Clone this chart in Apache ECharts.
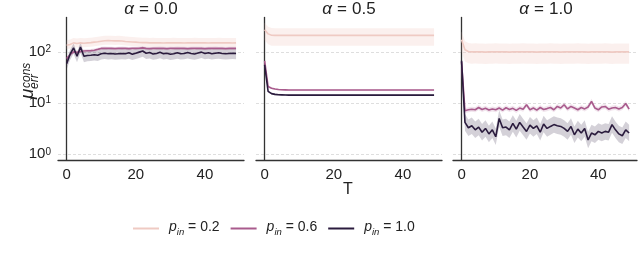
<!DOCTYPE html>
<html><head><meta charset="utf-8">
<script src="https://cdn.jsdelivr.net/npm/echarts@6/dist/echarts.min.js"></script>
<style>html,body{margin:0;padding:0;background:#fff}#c{width:640px;height:267px}</style>
</head><body><div id="c"></div>
<script>
const T = [...Array(50).keys()];
const alphaTitles = ['0.0', '0.5', '1.0'];
const pinLabels = ['0.2', '0.6', '1.0'];
const xTickLabels = [0, 20, 40];
const yTickExps = [0, 1, 2];

// alpha = 0.0
const a00_p02 = [135,140,150,146,150,148,150,152,155,158,162,165,166,165,164,165,163,160,158,156,155,153,152,152,150,151,150,150,149,150,150,151,150,150,149,150,150,151,150,150,150,149,150,150,151,150,150,150,149,150];
const a00_p06 = [74,88,100,98,102,104,105,106,108,112,117,118,117,117,116,117,118,117,116,117,117,118,120,117,116,117,117,118,117,116,117,117,118,117,117,116,117,118,117,117,116,117,117,118,117,117,116,117,117,117];
const a00_p10 = [59,90,120,82,125,82,85,86,88,86,92,94,92,93,91,92,93,92,96,90,94,99,104,94,97,91,93,98,92,94,90,92,96,92,93,97,93,91,95,99,93,96,92,94,96,93,92,93,94,93];
// alpha = 0.5
const a05_p02 = [270,225,212,210,210,210,210,210,210,210,210,210,210,210,210,210,210,210,210,210,210,210,210,210,210,210,210,210,210,210,210,210,210,210,210,210,210,210,210,210,210,210,210,210,210,210,210,210,210,210];
const a05_p06 = [67,21,19.5,18.8,18.4,18.2,18.1,18,18,18,18,18,18,18,18,18,18,18,18,18,18,18,18,18,18,18,18,18,18,18,18,18,18,18,18,18,18,18,18,18,18,18,18,18,18,18,18,18,18,18];
const a05_p10 = [56,17,15.3,14.8,14.6,14.5,14.4,14.3,14.3,14.3,14.3,14.3,14.3,14.3,14.3,14.3,14.3,14.3,14.3,14.3,14.3,14.3,14.3,14.3,14.3,14.3,14.3,14.3,14.3,14.3,14.3,14.3,14.3,14.3,14.3,14.3,14.3,14.3,14.3,14.3,14.3,14.3,14.3,14.3,14.3,14.3,14.3,14.3,14.3,14.3];
// alpha = 1.0
const a10_p02 = [172,110,102,100,101,100,100,99,100,100,101,100,100,100,99,100,100,100,101,100,100,100,99,100,100,100,101,100,100,99,100,100,100,100,101,100,100,99,100,100,100,100,101,100,99,100,100,100,100,100];
const a10_p06 = [64,7.1,7.4,7.6,7.4,8.2,7.5,7.9,7.3,7.7,7.4,8.0,7.3,8.1,7.5,7.9,7.2,8.0,7.6,9.3,7.4,8.0,7.3,8.2,7.5,7.8,8.2,7.4,8.6,8.0,9.3,7.7,8.6,8.0,7.4,8.2,7.7,8.4,10.8,8.0,7.4,8.4,8.6,7.6,8.0,8.2,7.7,8.2,9.8,7.6];
const a10_p10 = [67,4.2,3.3,3.6,3.0,3.4,2.7,3.2,2.5,3.0,2.2,5.0,3.3,3.4,3.0,4.0,3.1,4.2,3.4,2.8,3.7,3.2,3.6,2.7,3.9,3.2,3.5,3.8,3.6,3.5,3.2,2.8,3.5,2.4,3.1,2.6,3.2,1.9,2.6,2.4,2.8,2.6,2.8,2.7,3.8,3.0,2.5,2.3,3.0,2.6];

// confidence band spread factors (upper multiplier, lower divisor) per p_in
const bandUp_a00 = [1.25, 1.08, 1.22];
const bandDn_a00 = [1.2, 1.08, 1.3];
const bandUp_a05 = [1.38, 1.04, 1.04];
const bandDn_a05 = [1.6, 1.04, 1.04];
const bandUp_a10 = [1.46, 1.12, 1.45];
const bandDn_a10 = [1.7, 1.12, 1.45];

const panels = [
  {lines: [a00_p02, a00_p06, a00_p10], up: bandUp_a00, dn: bandDn_a00},
  {lines: [a05_p02, a05_p06, a05_p10], up: bandUp_a05, dn: bandDn_a05},
  {lines: [a10_p02, a10_p06, a10_p10], up: bandUp_a10, dn: bandDn_a10}
];
const colors = ['#efcac3', '#a95b8d', '#2a1b3d'];
const bandColors = ['rgba(239,202,195,0.28)', 'rgba(169,91,141,0.16)', 'rgba(42,27,61,0.2)'];
const FONT = '"Liberation Sans", Arial, sans-serif';

const gridLefts = [58, 256, 453];
const gridW = 186;
const grids = gridLefts.map(l => ({left: l, width: gridW, top: 17.5, height: 142.5}));

const xAxes = gridLefts.map((l, i) => ({
  type: 'value', gridIndex: i, min: -2.5, max: 51.3, interval: 2.5,
  axisLine: {show: true, lineStyle: {color: '#333', width: 1.3}},
  axisTick: {show: false},
  splitLine: {show: false},
  axisLabel: {
    margin: 7, color: '#222', fontSize: 15, fontFamily: FONT,
    formatter: v => (xTickLabels.includes(Math.round(v * 100) / 100) ? String(Math.round(v)) : '')
  }
}));

const yAxes = gridLefts.map((l, i) => ({
  type: 'log', gridIndex: i, logBase: 10, min: 0.773, max: 470,
  axisLine: {show: true, lineStyle: {color: '#333', width: 1.3}},
  axisTick: {show: false},
  splitLine: {show: true, showMinLine: false, showMaxLine: false,
    lineStyle: {color: '#d6d6d6', width: 0.8, type: [3, 2]}},
  axisLabel: {
    show: i === 0, margin: 7, color: '#222', fontFamily: FONT,
    formatter: v => {
      const e = Math.log10(v);
      const r = Math.round(e);
      if (Math.abs(e - r) > 1e-6 || !yTickExps.includes(r)) return '';
      return '{b|10}{s|' + r + '}';
    },
    rich: {
      b: {fontSize: 15, lineHeight: 15, verticalAlign: 'bottom', fontFamily: FONT, color: '#222'},
      s: {fontSize: 10, lineHeight: 12, verticalAlign: 'top', fontFamily: FONT, color: '#222'}
    }
  }
}));

function bandRender(params, api) {
  if (params.dataIndexInside !== 0) return null;
  const n = params.dataInsideLength;
  const upper = [], lower = [];
  for (let j = 0; j < n; j++) {
    const t = api.value(0, j);
    upper.push(api.coord([t, api.value(2, j)]));
    lower.push(api.coord([t, api.value(1, j)]));
  }
  return {
    type: 'polygon', shape: {points: upper.concat(lower.reverse())},
    style: {fill: api.visual('color')}
  };
}

const seriesNames = pinLabels.map(p => 'p_in = ' + p);
const series = [];
panels.forEach((pan, pi) => {
  pan.lines.forEach((vals, k) => {
    series.push({
      type: 'custom', name: 'band_' + pi + k, xAxisIndex: pi, yAxisIndex: pi,
      data: T.map((t, j) => [t, vals[j] / pan.dn[k], vals[j] * pan.up[k]]),
      encode: {x: 0, y: [1, 2]},
      renderItem: bandRender, silent: true, z: 1,
      itemStyle: {color: bandColors[k]}
    });
  });
  pan.lines.forEach((vals, k) => {
    series.push({
      type: 'line', name: seriesNames[k], xAxisIndex: pi, yAxisIndex: pi,
      data: T.map((t, j) => [t, vals[j]]), symbol: 'none', color: colors[k],
      lineStyle: {width: 1.6, color: colors[k]}, z: 3 + k
    });
  });
});

const titleGraphics = alphaTitles.map((a, i) => ({
  type: 'text', x: gridLefts[i] + gridW / 2, y: 9,
  style: {
    text: '{i|α}{e|=}' + a, align: 'center', verticalAlign: 'middle',
    fontSize: 17, fontFamily: FONT, fill: '#222',
    rich: {
      i: {fontStyle: 'italic', fontSize: 17, fontFamily: FONT, fill: '#222'},
      e: {fontSize: 17, fontFamily: FONT, fill: '#222', padding: [0, 5, 0, 5]}
    }
  }
}));

const option = {
  animation: false,
  backgroundColor: '#fff',
  grid: grids,
  xAxis: xAxes,
  yAxis: yAxes,
  series: series,
  legend: {
    data: seriesNames.map((n, k) => ({name: n, itemStyle: {color: colors[k]}})),
    left: 133, top: 220, padding: 0, icon: 'rect', itemWidth: 26, itemHeight: 2, itemGap: 11,
    selectedMode: false,
    formatter: name => '{p|p}{s|in}{t| = ' + name.split('= ')[1] + '}',
    textStyle: {
      color: '#222', fontFamily: FONT,
      rich: {
        p: {fontSize: 14, fontStyle: 'italic', lineHeight: 15, verticalAlign: 'top', fontFamily: FONT, color: '#222', padding: [0, 0, 0, 5]},
        s: {fontSize: 9.5, fontStyle: 'italic', lineHeight: 10, verticalAlign: 'bottom', fontFamily: FONT, color: '#222'},
        t: {fontSize: 14, lineHeight: 17, verticalAlign: 'top', fontFamily: FONT, color: '#222'}
      }
    }
  },
  graphic: titleGraphics.concat([
    {type: 'text', x: 348, y: 190, style: {text: 'T', align: 'center', verticalAlign: 'middle', fontSize: 16, fontFamily: FONT, fill: '#222'}},
    {type: 'group', x: 28, y: 99, rotation: Math.PI / 2, children: [
      {type: 'text', x: 0, y: 0, style: {text: 'μ', align: 'left', verticalAlign: 'middle', fontSize: 19, fontStyle: 'italic', fontFamily: FONT, fill: '#222'}},
      {type: 'text', x: 10, y: 7, style: {text: 'err', align: 'left', verticalAlign: 'middle', fontSize: 12, fontStyle: 'italic', fontFamily: FONT, fill: '#222'}},
      {type: 'text', x: 11, y: -1, style: {text: 'cons', align: 'left', verticalAlign: 'middle', fontSize: 12, fontStyle: 'italic', fontFamily: FONT, fill: '#222'}}
    ]}
  ])
};

const chart = echarts.init(document.getElementById('c'), null, {renderer: 'canvas'});
chart.setOption(option);
</script>
</body></html>
